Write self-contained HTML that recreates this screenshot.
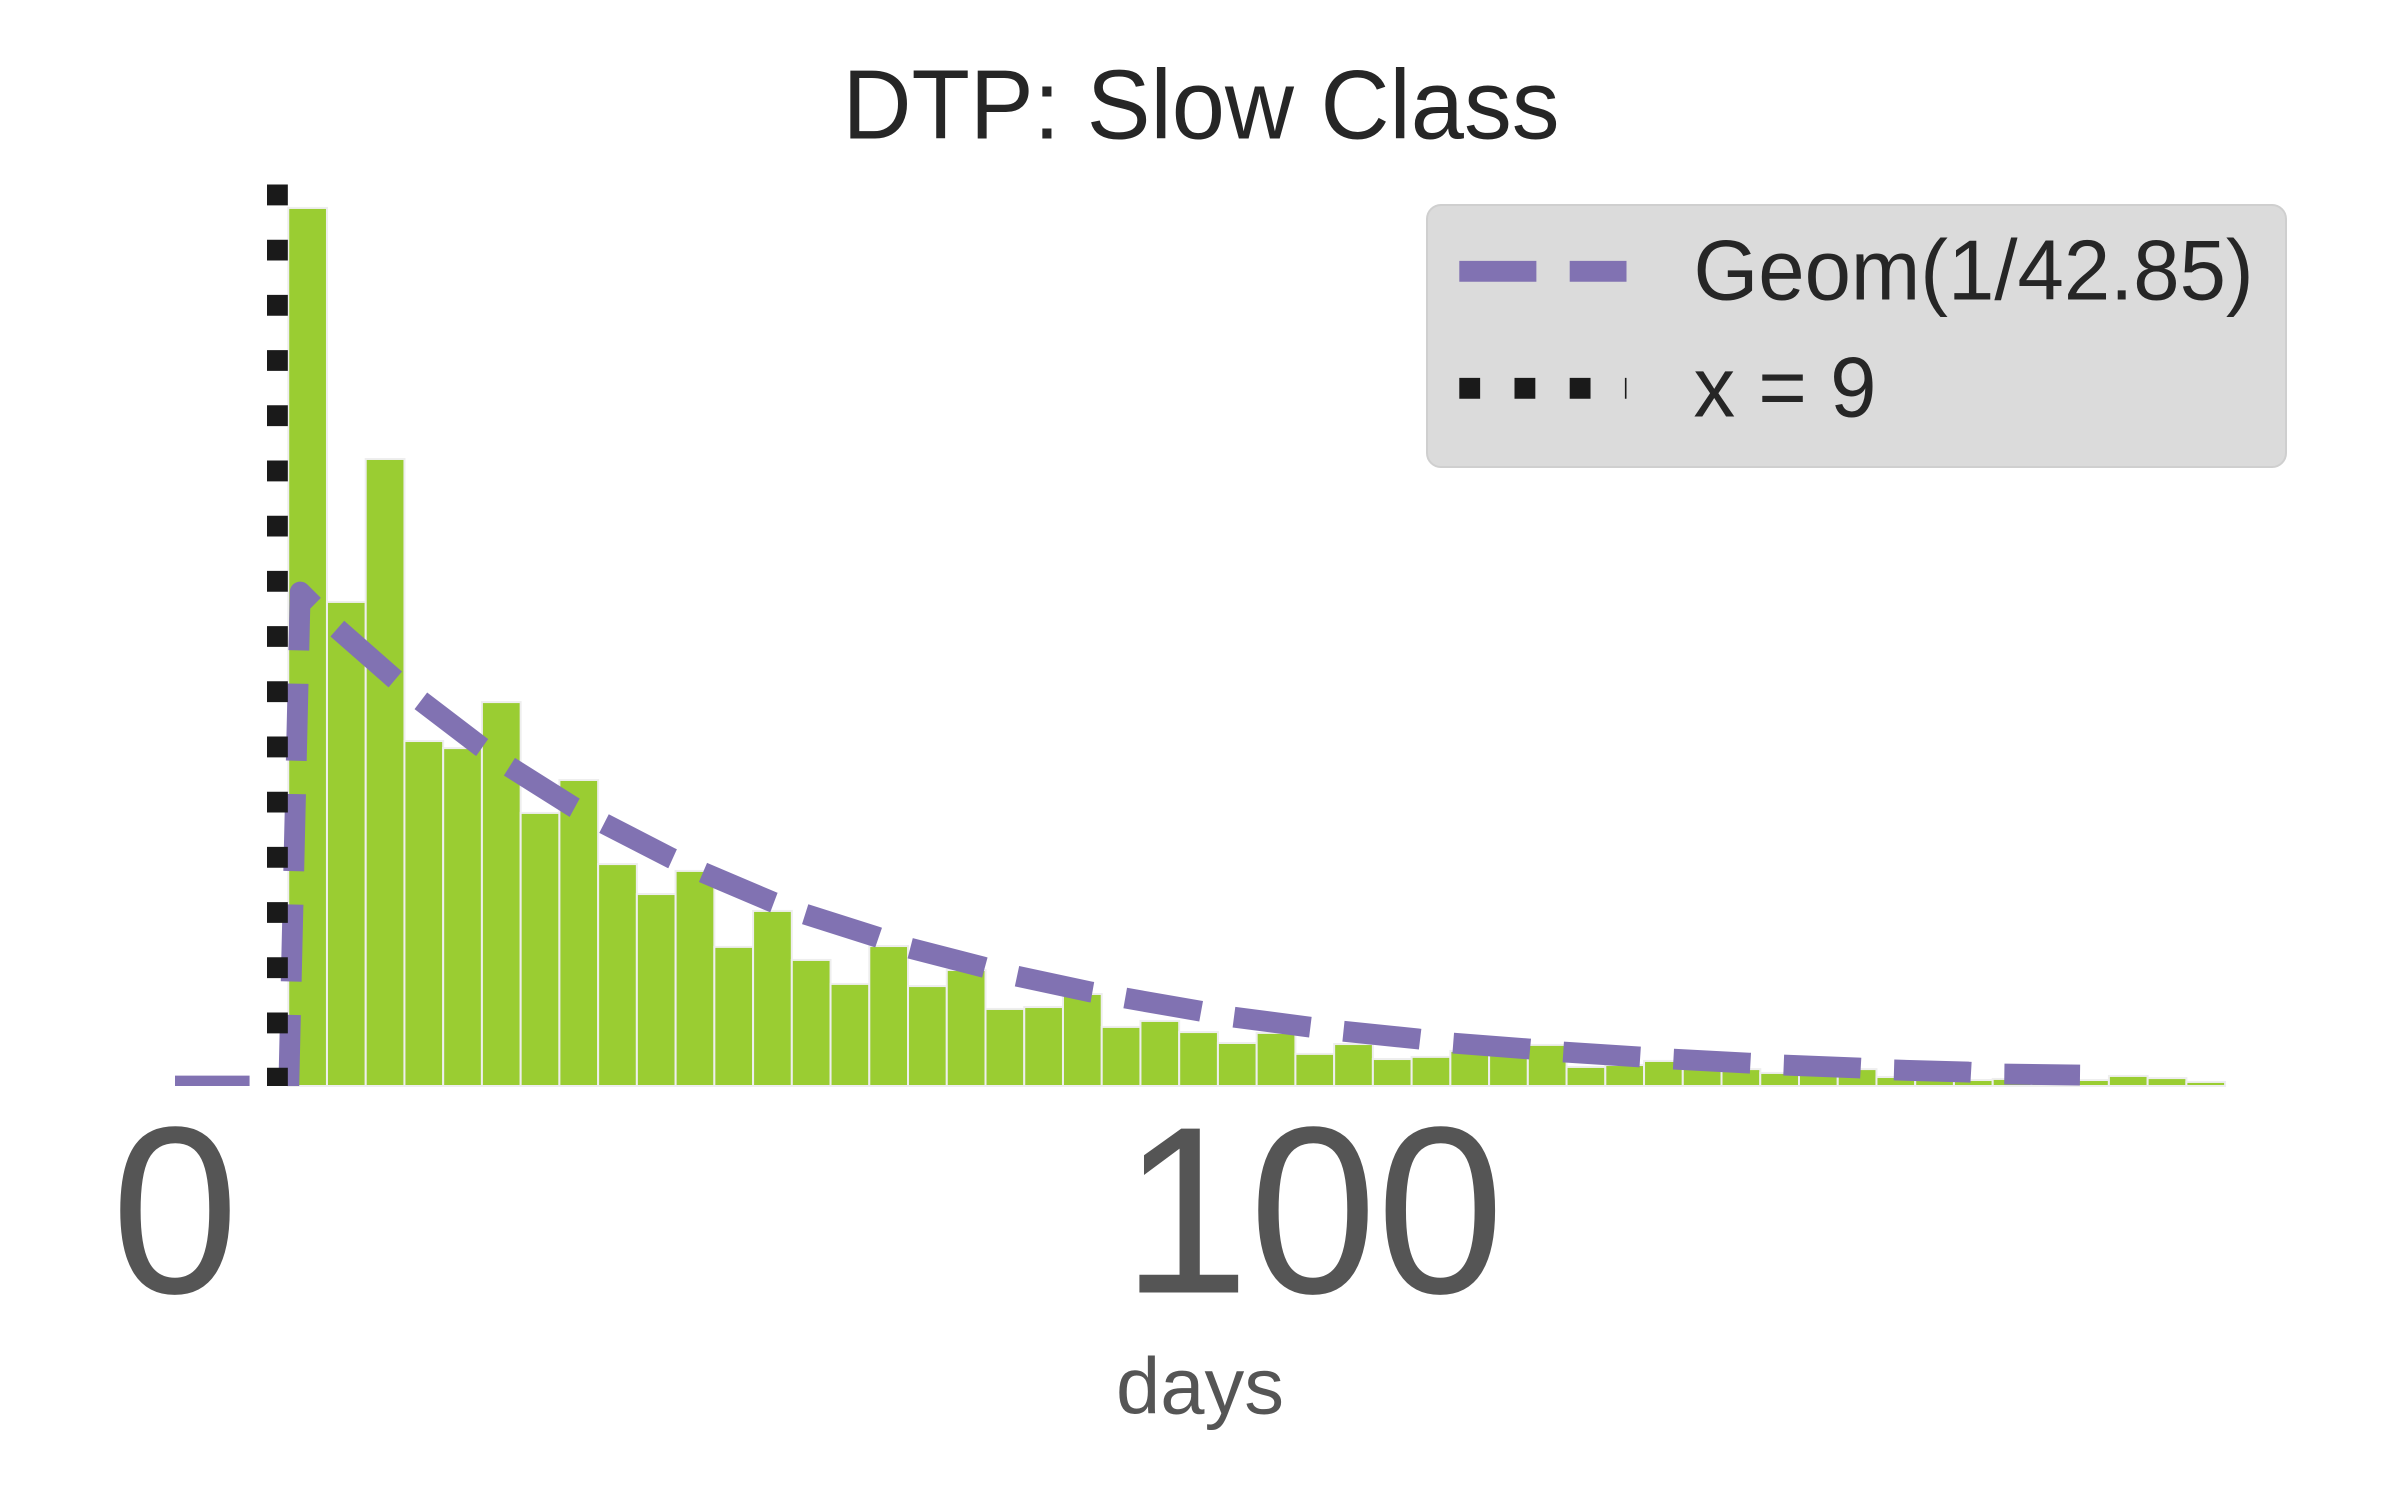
<!DOCTYPE html>
<html lang="en">
<head>
<meta charset="utf-8">
<title>DTP: Slow Class</title>
<style>
html,body{margin:0;padding:0;background:#fff;}
svg{display:block;font-family:"Liberation Sans",Arial,sans-serif;}
</style>
</head>
<body>
<svg id="chart" xmlns="http://www.w3.org/2000/svg" width="2400" height="1500" viewBox="0 0 2400 1500">
  <rect x="0" y="0" width="2400" height="1500" fill="#ffffff"/>
  <defs>
    <clipPath id="plot-clip"><rect x="0" y="100" width="2400" height="986"/></clipPath>
  </defs>
  <text transform="translate(1201 138.3) scale(1 1.025)" x="0" y="0" font-size="95.6" fill="#262626" text-anchor="middle">DTP: Slow Class</text>
  <g id="bars"></g>
  <g id="lines" clip-path="url(#plot-clip)"></g>
  <g id="ticks"></g>
  <text x="1200" y="1413.3" font-size="79.5" fill="#555555" text-anchor="middle">days</text>
  <g>
    <rect x="1427" y="205" width="859" height="262" rx="14" ry="14" fill="#dbdbdb" stroke="#cfcfcf" stroke-width="2"/>
    <line x1="1459.3" y1="271.3" x2="1626.5" y2="271.3" stroke="#8172b2" stroke-width="20.83" stroke-dasharray="77.08 33.33"/>
    <text transform="translate(1693.5 299.5) scale(1 1.03)" x="0" y="0" font-size="83.3" fill="#262626">Geom(1/42.85)</text>
    <line x1="1459.3" y1="388.3" x2="1626.5" y2="388.3" stroke="#1a1a1a" stroke-width="20.83" stroke-dasharray="20.83 34.37"/>
    <text transform="translate(1693.5 416.5) scale(1 1.03)" x="0" y="0" font-size="83.3" fill="#262626">x = 9</text>
  </g>
</svg>
<script>
var binStart = 9.95;
var binWidth = 3.404;
var binDensity = [0.04103,0.02262,0.02930,0.01612,0.01579,0.01794,0.01276,0.01430,0.01037,0.00897,
  0.01005,0.00650,0.00818,0.00589,0.00477,0.00654,0.00467,0.00542,0.00360,0.00369,
  0.00430,0.00276,0.00304,0.00252,0.00201,0.00248,0.00150,0.00196,0.00126,0.00136,
  0.00164,0.00150,0.00192,0.00089,0.00098,0.00117,0.00098,0.00079,0.00061,0.00056,
  0.00079,0.00042,0.00037,0.00028,0.00033,0.00023,0.00028,0.00047,0.00037,0.00019];
var geomDays = [0,10,11,14.1,19.2,21.5,26.8,29.3,35,37.6,43.6,46.3,52.5,55.3,61.7,64.5,71,73.9,80.5,83.5,90.1,93,99.6,102.5,109.2,112.2,119,121.9,128.6,131.5,138.3,141.3,148,151,157.6,160.6,167.4];
var geomDensity = [0,0,0.02308,0.02145,0.01907,0.01804,0.01589,0.01495,0.01304,0.01229,0.01065,0.01000,0.00860,0.00804,0.00696,0.00645,0.00556,0.00514,0.00439,0.00411,0.00350,0.00322,0.00276,0.00257,0.00220,0.00201,0.00173,0.00159,0.00136,0.00126,0.00107,0.00098,0.00084,0.00075,0.00065,0.00056,0.00051];
var thresholdDay = 9;
var thresholdTop = 0.0425;
var tickValues = [0,100];
var tickLabels = ["0","100"];

var NS = 'http://www.w3.org/2000/svg';
function xScale(d){ return 175 + 11.38 * d; }
function yScale(v){ return 1086 - 21400 * v; }

var barsGroup = document.getElementById('bars');
binDensity.forEach(function(v,i){
  var left = xScale(binStart + i * binWidth);
  var right = xScale(binStart + (i + 1) * binWidth);
  var rect = document.createElementNS(NS,'rect');
  
  
  rect.setAttribute('x', left);
  rect.setAttribute('y', yScale(v));
  rect.setAttribute('width', right - left);
  rect.setAttribute('height', 1086 - yScale(v));
  rect.setAttribute('fill', '#9acd32');
  rect.setAttribute('stroke', '#eeeeee');
  rect.setAttribute('stroke-width', '2');
  barsGroup.appendChild(rect);
});

var linesGroup = document.getElementById('lines');
var geomPoints = geomDays.map(function(d,i){ return xScale(d).toFixed(2) + ',' + yScale(geomDensity[i]).toFixed(2); }).join(' ');
var geomLine = document.createElementNS(NS,'polyline');


geomLine.setAttribute('points', geomPoints);
geomLine.setAttribute('fill', 'none');
geomLine.setAttribute('stroke', '#8172b2');
geomLine.setAttribute('stroke-width', '20.83');
geomLine.setAttribute('stroke-dasharray', '77.08 33.33');
geomLine.setAttribute('stroke-dashoffset', '2.5');
geomLine.setAttribute('stroke-linejoin', 'round');
linesGroup.appendChild(geomLine);

var thresholdLine = document.createElementNS(NS,'line');


thresholdLine.setAttribute('x1', xScale(thresholdDay));
thresholdLine.setAttribute('x2', xScale(thresholdDay));
thresholdLine.setAttribute('y1', yScale(0));
thresholdLine.setAttribute('y2', yScale(thresholdTop));
thresholdLine.setAttribute('stroke', '#1a1a1a');
thresholdLine.setAttribute('stroke-width', '20.83');
thresholdLine.setAttribute('stroke-dasharray', '20.83 34.37');
thresholdLine.setAttribute('stroke-dashoffset', '2.53');
linesGroup.appendChild(thresholdLine);

var ticksGroup = document.getElementById('ticks');
tickValues.forEach(function(t,i){
  var label = document.createElementNS(NS,'text');
  
  
  label.setAttribute('transform', 'translate(' + xScale(t) + ' 1292.5) scale(1 1.04)');
  label.setAttribute('font-size', '229');
  label.setAttribute('fill', '#555555');
  label.setAttribute('text-anchor', 'middle');
  label.textContent = tickLabels[i];
  ticksGroup.appendChild(label);
});
</script>
</body>
</html>
